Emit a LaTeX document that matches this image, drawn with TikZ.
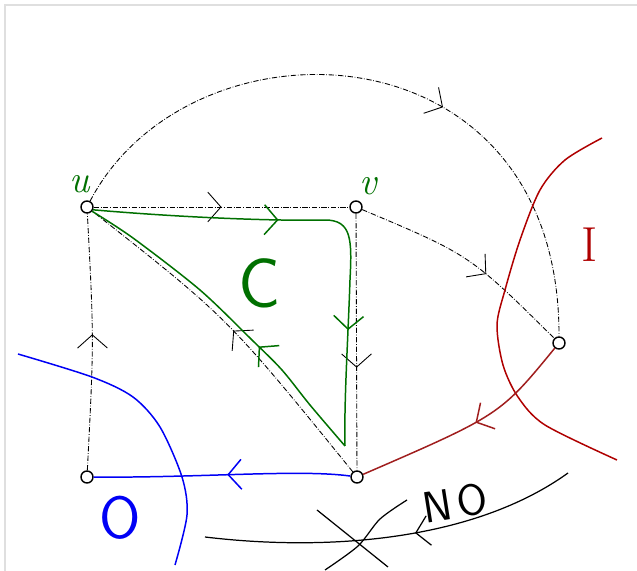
\documentclass[tikz,border=0pt]{standalone}
\usepackage{fontspec}
\usepackage{xcolor}
\usepackage{tikz}
\usetikzlibrary{arrows.meta,decorations.markings}

\definecolor{cycgreen}{RGB}{0,112,0}
\definecolor{bordred}{RGB}{175,0,0}
\definecolor{edgered}{RGB}{160,30,30}
\definecolor{bordblue}{RGB}{0,0,245}

\begin{document}
\begin{tikzpicture}[x=0.02cm, y=-0.02cm,
  vert/.style={draw, circle, inner sep=0pt, minimum size=0.24cm, line width=0.8pt},
  dd/.style={densely dash dot, line width=0.5pt},
  hand/.style={line width=0.85pt},
  midarrow/.style={postaction={decorate}, decoration={markings,
    mark=at position #1 with {\arrow{Straight Barb[length=7.5pt,width=17pt]}}}},
  lab/.style={inner sep=0pt}]
\useasboundingbox (0,0) rectangle (637,571);
\draw[gray!25, line width=0.8pt] (5,600) -- (5,5) -- (660,5);
% vertices
\foreach \name/\px/\py in {u/87/207, v/356/207, w/559/343, x/87/477, y/357/477}
  \node[vert] (\name) at (\px,\py) {};
% dash-dotted edges
\draw[dd, midarrow=0.5] (u) -- (v);
\draw[dd, midarrow=0.5] (y) .. controls (228,318) .. (u);
\draw[dd, midarrow=0.6] (v) -- (y);
\draw[dd, midarrow=0.53] (x) .. controls (94,340) .. (u);
\draw[dd, midarrow=0.6] (v) .. controls (470,255) .. (w);
\draw[dd, midarrow=0.6] (u) .. controls (190,10) and (560,20) .. (w);
% cycle C
\coordinate (gT) at (325,220);
\coordinate (gB) at (345,446);
\draw[hand, cycgreen, midarrow=0.8] (u.-25) .. controls (200,219) and (290,221) .. (gT);
\draw[hand, cycgreen, midarrow=0.52] (gT) .. controls (352,220) and (352,240) .. (350,280)
  .. controls (348,340) and (344,400) .. (gB);
\draw[hand, cycgreen, midarrow=0.38] plot[smooth] coordinates
  {(gB) (310,405) (282,370) (252,340) (200,290) (133,238) (u.-40)};
% boundary I
\draw[hand, bordred] plot[smooth] coordinates
  {(602,138) (565,160) (540,190) (520,240) (505,290) (497,325) (503,365) (518,397) (545,425) (617,460)};
\draw[hand, edgered, midarrow=0.47] (w) .. controls (500,415) .. (y);
% boundary O
\draw[hand, bordblue] plot[smooth] coordinates
  {(18,354) (92,377) (133,397) (160,427) (182,477) (187,515) (175,565)};
\draw[hand, bordblue, midarrow=0.48] (y) .. controls (300,469) and (200,478) .. (x);
% crossed out arrow
\coordinate (noA) at (568,473);
\coordinate (noB) at (205,537);
\draw[hand, line width=0.7pt, midarrow=0.44] (noA) .. controls (475,540) and (330,552) .. (noB);
\draw[line width=0.7pt] (317,510) -- (388,567);
\draw[line width=0.7pt] plot[smooth] coordinates {(407,500) (380,519) (358,546) (325,570)};
% labels
\node[lab, text=cycgreen, font=\itshape\fontsize{22}{22}\selectfont] (ulab) at (80,184) {u};
\node[lab, text=cycgreen, font=\itshape\fontsize{22}{22}\selectfont] (vlab) at (368,186) {v};
\node[lab, text=cycgreen, font=\sffamily\fontsize{40}{40}\selectfont] (clab) at (260,283) {C};
\node[lab, text=bordred, font=\fontsize{28}{28}\selectfont] (ilab) at (590,245) {I};
\node[lab, text=bordblue, font=\sffamily\fontsize{34}{34}\selectfont] (olab) at (120,518) {O};
\node[lab, rotate=9, font=\sffamily\fontsize{25}{25}\selectfont] (nolab) at (455,503) {N\hspace{3pt}O};
\end{tikzpicture}
\end{document}
